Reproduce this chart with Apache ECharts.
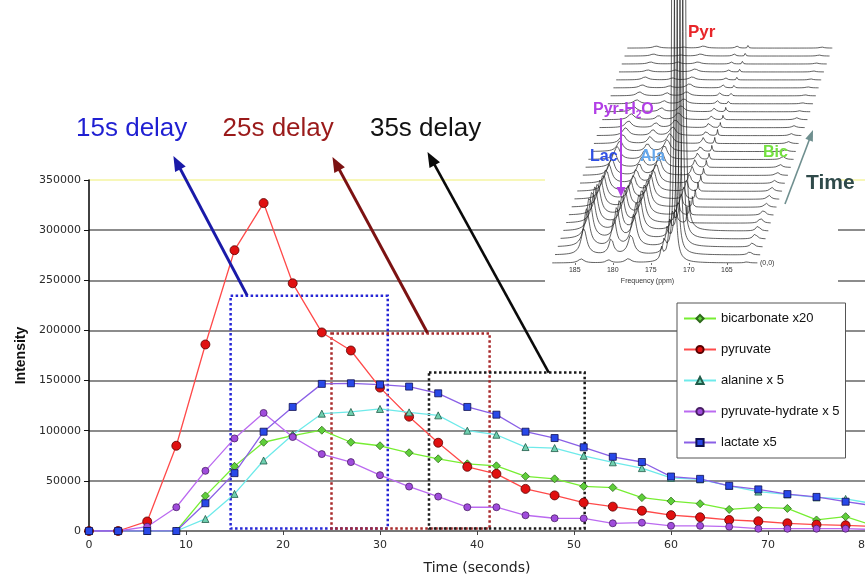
<!DOCTYPE html>
<html>
<head>
<meta charset="utf-8">
<script src="https://cdn.jsdelivr.net/npm/echarts@6/dist/echarts.min.js"></script>
<style>
  html, body { margin: 0; padding: 0; background: #fff; }
  #chart { width: 865px; height: 578px; }
</style>
</head>
<body>
<div id="chart"></div>
<script>
// ---- Time courses (intensity vs. time, one sample every 3 s) ----
const times = [0, 3, 6, 9, 12, 15, 18, 21, 24, 27, 30, 33, 36, 39, 42, 45, 48, 51, 54, 57, 60, 63, 66, 69, 72, 75, 78, 81];
const bicarbonate = [0, 0, 0, 0, 35000, 64500, 88500, 95000, 100500, 88500, 85000, 78000, 72000, 67000, 65000, 54500, 52000, 44500, 43300, 33300, 29800, 27200, 21500, 23500, 22500, 11000, 14300, 5000];
const pyruvate = [0, 0, 9500, 85000, 186000, 280000, 327000, 247000, 198000, 180000, 143000, 114000, 88000, 64000, 57000, 42000, 35500, 28300, 24300, 20200, 15800, 13700, 11000, 9700, 7700, 6300, 5700, 4500];
const alanine = [0, 0, 0, 0, 12000, 37000, 70300, 96000, 117000, 118700, 121700, 118300, 115300, 100000, 96000, 83700, 82700, 75000, 68500, 62700, 53000, 51500, 45000, 39300, 36500, 33500, 32000, 27000];
const pyruvateHydrate = [0, 0, 4300, 23700, 60000, 92300, 117700, 93700, 76700, 68700, 55700, 44300, 34300, 23700, 23700, 15700, 12700, 12500, 7700, 8300, 5200, 5200, 4300, 2300, 2300, 2300, 2300, 1500];
const lactate = [0, 0, 0, 0, 27700, 57700, 99000, 123700, 146700, 147300, 146000, 144000, 137300, 123700, 116000, 99000, 92700, 83500, 74000, 68800, 54300, 52000, 45100, 41500, 36800, 34000, 29200, 25000];

const seriesNames = ['bicarbonate x20', 'pyruvate', 'alanine x 5', 'pyruvate-hydrate x 5', 'lactate x5'];
const xTicks = [0, 10, 20, 30, 40, 50, 60, 70, 80];
const yTicks = [0, 50000, 100000, 150000, 200000, 250000, 300000, 350000];

// ---- Acquisition windows: [start s, end s, top intensity] ----
const delayLabels = ['15s delay', '25s delay', '35s delay'];
const delayWindows = [[14.6, 30.8, 234500], [25.0, 41.3, 197000], [35.05, 51.1, 158000]];

// ---- Stacked 13C spectra (peak heights per scan, scan 0 = front) ----
const peakNames = ['Lac', 'Pyr-H2O', 'Ala', 'side', 'Pyr', 'Bic'];
const peakShifts = [184.2, 180.6, 178.0, 173.6, 172.1, 162.4];   // ppm
const peakWidths = [0.45, 0.35, 0.45, 0.2, 0.06, 0.3];           // ppm (half width)
const lacPeak = [4, 26, 38, 42, 40, 36, 32, 28, 25, 22, 19, 17, 15, 13, 11, 9, 8, 7, 6, 5, 4, 4, 3, 3, 2, 2, 2, 2];
const pyrHydratePeak = [3, 16, 28, 31, 30, 27, 24, 21, 18, 16, 14, 12, 10, 9, 8, 7, 6, 5, 4, 4, 3, 3, 2, 2, 2, 2, 1, 1];
const alaPeak = [4, 20, 32, 36, 36, 34, 31, 28, 25, 22, 20, 18, 16, 14, 12, 10, 9, 8, 7, 6, 5, 4, 4, 3, 3, 2, 2, 2];
const sidePeak = [12, 14, 16, 16, 16, 15, 14, 13, 12, 11, 10, 9, 8, 7, 6, 6, 5, 5, 4, 4, 3, 3, 3, 2, 2, 2, 2, 2];
const pyrPeak = [3000, 3000, 3000, 3000, 3000, 16, 14, 12, 11, 10, 9, 8, 8, 7, 7, 6, 6, 5, 5, 5, 4, 4, 4, 3, 3, 3, 3, 3];
const bicPeak = [1, 3, 4, 5, 5, 5, 5, 4, 4, 4, 3, 3, 3, 3, 2, 2, 2, 2, 2, 1, 1, 1, 1, 1, 1, 1, 1, 1];
const ppmTicks = [185, 180, 175, 170, 165];

const chart = echarts.init(document.getElementById('chart'), null, { renderer: 'canvas' });

const pairs = (ys) => times.map((t, i) => [t, ys[i]]);

function mainSeries(name, ys, symbol, size, fill, border, line) {
  return {
    name, type: 'line', data: pairs(ys), xAxisIndex: 0, yAxisIndex: 0,
    symbol, symbolSize: size, showSymbol: true, showAllSymbol: true, clip: true,
    lineStyle: { color: line, width: 1.3 },
    itemStyle: { color: fill, borderColor: border, borderWidth: 0.8 },
    emphasis: { disabled: true }, animation: false, z: 4
  };
}

// stacked spectrum geometry
const nScans = lacPeak.length;
const scanRise = 7.96;        // vertical offset per scan
const scanShift = 0.366;      // ppm offset per scan
const scanBase = 29;
const heights = [lacPeak, pyrHydratePeak, alaPeak, sidePeak, pyrPeak, bicPeak];

function spectrum(i) {
  const pts = [];
  const base = scanBase + i * scanRise;
  for (let k = 0; k <= 1080; k++) {
    const ppm = 188 - k * 0.025;
    let y = base;
    for (let p = 0; p < peakShifts.length; p++) {
      const d = ppm - peakShifts[p], w = peakWidths[p];
      y += heights[p][i] * w * w / (d * d + w * w);
    }
    pts.push([ppm - i * scanShift, y]);
  }
  return pts;
}

const spectraSeries = [];
for (let i = nScans - 1; i >= 0; i--) {
  spectraSeries.push({
    name: 'scan ' + i, type: 'line', xAxisIndex: 1, yAxisIndex: 1,
    data: spectrum(i), symbol: 'none', showSymbol: false, clip: true, silent: true,
    lineStyle: { color: '#1e1e1e', width: 0.7 },
    areaStyle: { color: '#ffffff', opacity: 1, origin: scanBase + i * scanRise },
    emphasis: { disabled: true }, animation: false, z: 3
  });
}

const boxColors = ['#2626d6', '#a8282a', '#1a1a1a'];
const markBoxes = delayWindows.map((w, i) => [
  { coord: [w[0], w[2]], itemStyle: { borderColor: boxColors[i] } },
  { coord: [w[1], 2500] }
]);

const series = [
  mainSeries(seriesNames[0], bicarbonate, 'diamond', 8, '#5fcf3a', '#2f6a1c', '#77ee33'),
  mainSeries(seriesNames[1], pyruvate, 'circle', 9, '#e01010', '#5a0000', '#ff4a4a'),
  mainSeries(seriesNames[2], alanine, 'triangle', 7, '#6fd0b0', '#1f5a48', '#6eeaea'),
  mainSeries(seriesNames[3], pyruvateHydrate, 'circle', 7, '#a04cdc', '#4a1f66', '#bb6af0'),
  mainSeries(seriesNames[4], lactate, 'rect', 7, '#2848e8', '#101050', '#8a60e6')
];
series[1].markArea = {
  silent: true,
  itemStyle: { color: 'rgba(0,0,0,0)', borderWidth: 2.5, borderType: 'dotted' },
  data: markBoxes
};

const option = {
  animation: false,
  backgroundColor: '#ffffff',
  textStyle: { fontFamily: 'Liberation Sans, Arial, sans-serif' },
  grid: [
    { left: 89, right: 0, top: 180, bottom: 47, containLabel: false, outerBoundsMode: 'none' },
    { left: 545, top: 0, width: 295, height: 292, containLabel: false, outerBoundsMode: 'none' },
    { left: 552, top: 262, width: 205, height: 1, containLabel: false, outerBoundsMode: 'none' }
  ],
  legend: {
    data: seriesNames,
    orient: 'vertical', left: 677, top: 303,
    itemWidth: 32, itemHeight: 9, itemGap: 18,
    padding: [9, 6, 9, 6],
    backgroundColor: '#ffffff', borderColor: '#555', borderWidth: 1,
    textStyle: { fontFamily: '"Liberation Sans", Arial, sans-serif', fontSize: 13, color: '#111' },
    selectedMode: false
  },
  xAxis: [
    {
      gridIndex: 0, type: 'value', min: 0, max: 80, interval: 10,
      name: 'Time (seconds)', nameLocation: 'middle', nameGap: 30,
      nameTextStyle: { fontFamily: 'DejaVu Sans', fontSize: 14, color: '#222' },
      axisLine: { show: true, lineStyle: { color: '#777', width: 2 } },
      axisTick: { show: true, length: 4, lineStyle: { color: '#444' } },
      axisLabel: { fontFamily: 'DejaVu Sans', fontSize: 11, color: '#2a2a2a', margin: 9,
        formatter: (v) => xTicks.includes(v) ? String(v) : '' },
      splitLine: { show: false }
    },
    {
      gridIndex: 1, type: 'value', inverse: true, min: 150.13, max: 188.95,
      show: false
    },
    {
      gridIndex: 2, type: 'value', inverse: true, min: 161.03, max: 188.0, position: 'bottom', z: 6,
      axisLine: { show: false },
      axisTick: { show: true, customValues: ppmTicks, length: 2, lineStyle: { color: '#333', width: 0.7 } },
      axisLabel: { show: true, customValues: ppmTicks, fontSize: 7, color: '#333', margin: 4 },
      splitLine: { show: false },
      name: 'Frequency (ppm)', nameLocation: 'middle', nameGap: 15,
      nameTextStyle: { fontSize: 7, color: '#333', padding: [0, 14, 0, 0] }
    }
  ],
  yAxis: [
    {
      gridIndex: 0, type: 'value', min: 0, max: 350000, interval: 50000,
      name: 'Intensity', nameLocation: 'middle', nameGap: 60, nameRotate: 90,
      nameTextStyle: { fontFamily: 'Liberation Sans', fontWeight: 'bold', fontSize: 14, color: '#111' },
      axisLine: { show: true, lineStyle: { color: '#111', width: 1.6 } },
      axisTick: { show: true, length: 5, lineStyle: { color: '#111' } },
      axisLabel: { fontFamily: 'DejaVu Sans', fontSize: 11, color: '#2a2a2a', margin: 8,
        formatter: (v) => yTicks.includes(v) ? String(v) : '' },
      splitLine: {
        show: true,
        lineStyle: { color: ['#666', '#666', '#666', '#666', '#666', '#666', '#666', '#f4f4a0'], width: 1.5 }
      }
    },
    { gridIndex: 1, type: 'value', min: 0, max: 292, show: false },
    { gridIndex: 2, type: 'value', show: false }
  ],
  series: series.concat(spectraSeries)
};

chart.setOption(option);

// ---- annotations positioned through the axes ----
const toPx = (x, y) => chart.convertToPixel({ xAxisIndex: 0, yAxisIndex: 0 }, [x, y]);

function arrow(p0, p1, color, width, headLen, headW, z) {
  const dx = p1[0] - p0[0], dy = p1[1] - p0[1];
  const L = Math.hypot(dx, dy), ux = dx / L, uy = dy / L;
  const bx = p1[0] - ux * headLen, by = p1[1] - uy * headLen;
  const nx = -uy, ny = ux;
  return [
    { type: 'line', z, silent: true, shape: { x1: p0[0], y1: p0[1], x2: bx + ux * 2, y2: by + uy * 2 },
      style: { stroke: color, lineWidth: width } },
    { type: 'polygon', z, silent: true,
      shape: { points: [[p1[0], p1[1]], [bx + nx * headW / 2, by + ny * headW / 2], [bx - nx * headW / 2, by - ny * headW / 2]] },
      style: { fill: color } }
  ];
}

const delayColors = ['#1f1fd2', '#9a1a1a', '#111111'];
const arrowColors = ['#1a1aa8', '#7c1212', '#0a0a0a'];
const labelAnchors = [[4.4, 401000], [19.5, 401000], [34.7, 401000]];
const arrowTails = [[16.3, 235000], [34.9, 197500], [47.4, 158000]];
const arrowHeads = [[8.7, 374000], [25.1, 373000], [34.9, 378000]];

const graphics = [];
// white panel behind the spectra
graphics.push({ type: 'rect', z: 1, silent: true, shape: { x: 545, y: 0, width: 293, height: 292 }, style: { fill: '#ffffff' } });

delayLabels.forEach((t, i) => {
  const p = toPx(labelAnchors[i][0], labelAnchors[i][1]);
  graphics.push({ type: 'text', z: 10, silent: true, x: p[0], y: p[1],
    style: { text: t, font: '26px "Liberation Sans", Arial, sans-serif', fill: delayColors[i], align: 'center', verticalAlign: 'middle' } });
  const w = i === 2 ? 2.6 : 3;
  graphics.push(...arrow(toPx(arrowTails[i][0], arrowTails[i][1]), toPx(arrowHeads[i][0], arrowHeads[i][1]), arrowColors[i], w, 15, 12, 10));
});

// spectrum labels
const bold = (s) => 'bold ' + s + 'px "Liberation Sans", Arial, sans-serif';
graphics.push({ type: 'text', z: 10, silent: true, x: 688, y: 32, style: { text: 'Pyr', font: bold(17), fill: '#e8262a', align: 'left', verticalAlign: 'middle' } });
graphics.push({ type: 'text', z: 10, silent: true, x: 593, y: 110,
  style: {
    text: '{a|Pyr-H}{b|2}{a|O}', align: 'left', verticalAlign: 'middle',
    rich: {
      a: { font: bold(16), fill: '#b23fe6', lineHeight: 20, verticalAlign: 'middle' },
      b: { font: bold(10), fill: '#b23fe6', lineHeight: 20, verticalAlign: 'bottom', padding: [0, 0, 0, 0] }
    }
  } });
graphics.push({ type: 'text', z: 10, silent: true, x: 590, y: 157, style: { text: 'Lac', font: bold(16), fill: '#3050e6', align: 'left', verticalAlign: 'middle' } });
graphics.push({ type: 'text', z: 10, silent: true, x: 640, y: 157, style: { text: 'Ala', font: bold(16), fill: '#64a8ee', align: 'left', verticalAlign: 'middle' } });
graphics.push({ type: 'text', z: 10, silent: true, x: 763, y: 153, style: { text: 'Bic', font: bold(16), fill: '#74e040', align: 'left', verticalAlign: 'middle' } });
graphics.push({ type: 'text', z: 10, silent: true, x: 806, y: 183, style: { text: 'Time', font: bold(21), fill: '#2f4a4a', align: 'left', verticalAlign: 'middle' } });
graphics.push({ type: 'text', z: 10, silent: true, x: 760, y: 263, style: { text: '(0,0)', font: '7px "Liberation Sans", Arial, sans-serif', fill: '#333', align: 'left', verticalAlign: 'middle' } });
graphics.push(...arrow([621, 118], [621, 197], '#b23fe6', 2, 10, 9, 10));
graphics.push(...arrow([785, 204], [813, 130], '#6f8f8f', 1.6, 11, 8, 10));

chart.setOption({ graphic: graphics });
</script>
</body>
</html>
